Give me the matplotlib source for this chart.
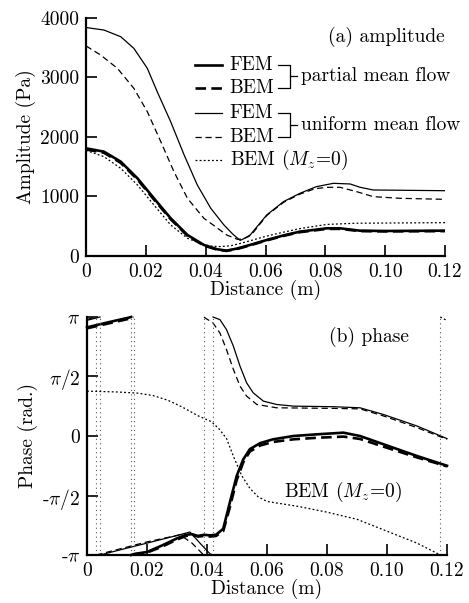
import numpy as np
import matplotlib
matplotlib.use("Agg")
import matplotlib.pyplot as plt

plt.rcParams['font.family'] = 'cmr10'
plt.rcParams['mathtext.fontset'] = 'cm'
plt.rcParams['axes.formatter.use_mathtext'] = True
plt.rcParams['font.size'] = 14

# ---- (a) amplitude, Pa ----
d_pf = [0, 0.006, 0.0116, 0.0172, 0.0227, 0.0283, 0.0339, 0.0394, 0.0439, 0.047,
        0.0505, 0.0548, 0.0604, 0.066, 0.0715, 0.0805, 0.0849, 0.0916, 0.1, 0.12]
amp_pf = [1809, 1753, 1585, 1305, 969, 633, 353, 185, 112, 90,
          125, 185, 269, 345, 409, 465, 465, 425, 420, 425]
amp_pb = [1790, 1735, 1565, 1285, 950, 618, 340, 175, 105, 85,
          118, 178, 262, 338, 400, 455, 455, 418, 413, 418]

d_uf = [0, 0.006, 0.0116, 0.016, 0.0205, 0.0238, 0.0283, 0.0328, 0.0372, 0.0417,
        0.0461, 0.0490, 0.0515, 0.0545, 0.0604, 0.066, 0.0715, 0.077, 0.0827,
        0.0883, 0.0916, 0.096, 0.12]
amp_uf = [3840, 3797, 3685, 3489, 3153, 2760, 2256, 1697, 1193, 801,
          521, 370, 262, 330, 689, 913, 1053, 1165, 1221,
          1210, 1154, 1109, 1097]

d_ub = [0, 0.0049, 0.0105, 0.016, 0.0205, 0.025, 0.0294, 0.0339, 0.0394, 0.0425,
        0.047, 0.0506, 0.0525, 0.0555, 0.0604, 0.066, 0.0715, 0.0765, 0.0805,
        0.0849, 0.0905, 0.096, 0.105, 0.12]
amp_ub = [3530, 3377, 3153, 2817, 2424, 1920, 1416, 969, 633, 521,
          353, 280, 285, 370, 680, 900, 1040, 1130, 1154,
          1154, 1080, 997, 969, 952]

d_m0 = [0, 0.006, 0.0116, 0.0172, 0.0227, 0.0283, 0.0339, 0.0394, 0.042, 0.0448,
        0.0484, 0.0515, 0.0548, 0.0604, 0.066, 0.0715, 0.0805, 0.09, 0.12]
amp_m0 = [1775, 1669, 1473, 1193, 857, 521, 297, 190, 165, 158,
          172, 210, 255, 335, 400, 460, 530, 550, 560]

# ---- (b) phase, unwrapped, in units of pi ----
d_ph_pf = [0, 0.007, 0.014, 0.016, 0.02, 0.025, 0.03, 0.033, 0.035, 0.037, 0.039,
           0.041, 0.043, 0.0454, 0.0476, 0.0499, 0.0521, 0.0543, 0.0577, 0.062,
           0.0688, 0.0766, 0.0855, 0.091, 0.0989, 0.11, 0.12]
ph_pf = [0.913, 0.955, 0.995, 1.01, 1.025, 1.08, 1.14, 1.17, 1.175, 1.16, 1.17,
         1.165, 1.17, 1.22, 1.44, 1.665, 1.804, 1.89, 1.94, 1.972,
         2.0, 2.014, 2.028, 2.0, 1.93, 1.832, 1.75]
ph_pb = [0.905, 0.945, 0.985, 1.005, 1.02, 1.07, 1.13, 1.16, 1.17, 1.155, 1.16,
         1.155, 1.16, 1.2, 1.4, 1.63, 1.78, 1.87, 1.92, 1.95,
         1.972, 1.985, 1.995, 1.975, 1.91, 1.82, 1.745]

d_ph_uf = [0, 0.01, 0.02, 0.03, 0.0343, 0.038, 0.041, 0.043, 0.0443, 0.0465,
           0.0488, 0.051, 0.0532, 0.0554, 0.0588, 0.0632, 0.0688, 0.0822, 0.091,
           0.0989, 0.11, 0.12]
ph_uf = [0.972, 1.0365, 1.10, 1.164, 1.193, 1.09, 1.01, 0.99, 0.978, 0.894,
         0.754, 0.587, 0.447, 0.363, 0.293, 0.265, 0.251, 0.246, 0.237,
         0.18, 0.084, -0.022]

d_ph_ub = [0, 0.01, 0.02, 0.031, 0.035, 0.0385, 0.0395, 0.042, 0.0443, 0.0465,
           0.0488, 0.051, 0.0532, 0.0566, 0.0632, 0.0822, 0.091, 0.0989, 0.11, 0.12]
ph_ub = [0.98, 1.045, 1.11, 1.17, 1.1, 1.01, 0.99, 0.95, 0.866, 0.726,
         0.559, 0.419, 0.335, 0.265, 0.237, 0.232, 0.228, 0.168, 0.07, -0.028]

d_ph_m0 = [0, 0.01, 0.017, 0.022, 0.027, 0.032, 0.037, 0.0415, 0.044, 0.0465,
           0.0488, 0.0515, 0.0543, 0.057, 0.06, 0.065, 0.07, 0.08, 0.09, 0.1,
           0.11, 0.117, 0.12]
ph_m0 = [0.377, 0.37, 0.36, 0.34, 0.3, 0.24, 0.17, 0.12, 0.06, -0.02,
         -0.17, -0.33, -0.44, -0.51, -0.55, -0.57, -0.59, -0.64, -0.7, -0.8,
         -0.9, -0.99, -1.03]


def wrap_segments(d, p):
    # split an unwrapped phase curve (units of pi) into pieces within [-1, 1]
    def wr(v):
        return ((v + 1) % 2) - 1
    segs, jumps = [], []
    xs, ys = [d[0]], [wr(p[0])]
    for i in range(1, len(d)):
        k0 = np.floor((p[i-1] + 1) / 2)
        k1 = np.floor((p[i] + 1) / 2)
        if k0 != k1:
            b = 2 * max(k0, k1) - 1
            t = (b - p[i-1]) / (p[i] - p[i-1])
            xc = d[i-1] + t * (d[i] - d[i-1])
            end = 1 if p[i] > p[i-1] else -1
            xs.append(xc); ys.append(end)
            segs.append((xs, ys)); jumps.append(xc)
            xs, ys = [xc], [-end]
        xs.append(d[i]); ys.append(wr(p[i]))
    segs.append((xs, ys))
    return segs, jumps


fig = plt.figure(figsize=(4.69, 6.03), dpi=100)
ax1 = fig.add_axes([0.1834, 0.5755, 0.7655, 0.3947])
ax2 = fig.add_axes([0.1855, 0.0796, 0.7676, 0.3947])

thick = dict(color='black', lw=1.9)
thin = dict(color='black', lw=0.9)
sty_pf = dict(thick, ls='-')
sty_pb = dict(thick, ls=(0, (4, 2)))
sty_uf = dict(thin, ls='-')
sty_ub = dict(thin, ls=(0, (5, 3)))
sty_m0 = dict(thin, ls=(0, (1.5, 1.8)))

ax1.plot(d_m0, amp_m0, **sty_m0)
ax1.plot(d_ub, amp_ub, **sty_ub)
ax1.plot(d_uf, amp_uf, **sty_uf)
ax1.plot(d_pf, amp_pb, **sty_pb)
ax1.plot(d_pf, amp_pf, **sty_pf)

ax1.set_xlim(0, 0.12)
ax1.set_ylim(0, 4000)
ax1.set_xticks([0, 0.02, 0.04, 0.06, 0.08, 0.10, 0.12])
ax1.set_xticklabels(['0', '0.02', '0.04', '0.06', '0.08', '0.10', '0.12'])
ax1.set_yticks([0, 1000, 2000, 3000, 4000])
ax1.set_yticklabels(['0', '1000', '2000', '3000', '4000'])
ax1.set_xlabel('Distance (m)', labelpad=-1)
ax1.set_ylabel('Amplitude (Pa)', labelpad=3)
ax1.text(1.0, 0.92, '(a) amplitude', transform=ax1.transAxes, ha='right', va='center')

# legend with brackets
rows = [0.8025, 0.706, 0.601, 0.50, 0.403]
styles = [sty_pf, sty_pb, sty_uf, sty_ub, sty_m0]
names = ['FEM', 'BEM', 'FEM', 'BEM', r'BEM ($M_z$=0)']
for yy, st, nm in zip(rows, styles, names):
    ax1.plot([0.303, 0.378], [yy, yy], transform=ax1.transAxes, clip_on=False, **st)
    ax1.text(0.40, yy, nm, transform=ax1.transAxes, va='center', ha='left')
for (y_a, y_b), txt in [((rows[0], rows[1]), 'partial mean flow'),
                        ((rows[2], rows[3]), 'uniform mean flow')]:
    ym = (y_a + y_b) / 2
    ax1.plot([0.535, 0.568, 0.568, 0.535], [y_a, y_a, y_b, y_b], color='black',
             lw=0.9, transform=ax1.transAxes, clip_on=False)
    ax1.plot([0.568, 0.588], [ym, ym], color='black', lw=0.9,
             transform=ax1.transAxes, clip_on=False)
    ax1.text(0.60, ym, txt, transform=ax1.transAxes, va='center', ha='left')

# phase
wrap_lines = []
for d, p, st in [(d_ph_m0, ph_m0, sty_m0), (d_ph_ub, ph_ub, sty_ub),
                 (d_ph_uf, ph_uf, sty_uf), (d_ph_pf, ph_pb, sty_pb),
                 (d_ph_pf, ph_pf, sty_pf)]:
    segs, jumps = wrap_segments(d, p)
    for xs, ys in segs:
        ax2.plot(xs, np.array(ys) * np.pi, clip_on=False, **st)
    wrap_lines += jumps
ax2.vlines(wrap_lines, -np.pi, np.pi, colors='0.35', lw=0.8, linestyles=(0, (1, 3)))

ax2.set_xlim(0, 0.12)
ax2.set_ylim(-np.pi, np.pi)
ax2.set_xticks([0, 0.02, 0.04, 0.06, 0.08, 0.10, 0.12])
ax2.set_xticklabels(['0', '0.02', '0.04', '0.06', '0.08', '0.10', '0.12'])
ax2.set_yticks([-np.pi, -np.pi / 2, 0, np.pi / 2, np.pi])
ax2.set_yticklabels([r'-$\pi$', r'-$\pi/2$', '0', r'$\pi/2$', r'$\pi$'])
ax2.set_xlabel('Distance (m)', labelpad=-1)
ax2.set_ylabel('Phase (rad.)', labelpad=3)
ax2.text(0.782, 0.916, '(b) phase', transform=ax2.transAxes, ha='center', va='center')
ax2.text(0.711, 0.265, r'BEM ($M_z$=0)', transform=ax2.transAxes, ha='center', va='center')

for ax in (ax1, ax2):
    ax.spines['top'].set_visible(False)
    ax.spines['right'].set_visible(False)
    ax.spines['left'].set_linewidth(1.6)
    ax.spines['bottom'].set_linewidth(1.6)
    ax.tick_params(direction='in', length=8, width=1.2, pad=5)

fig.savefig('out.png', dpi=100)
